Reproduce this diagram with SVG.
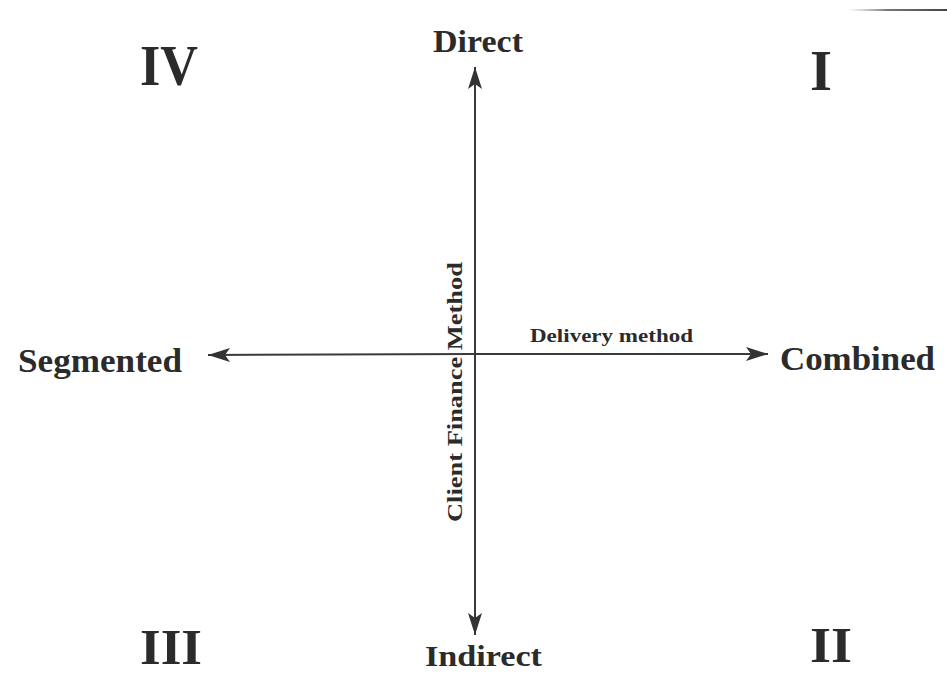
<svg xmlns="http://www.w3.org/2000/svg" width="947" height="674" viewBox="0 0 947 674">
<style>
.t{font-family:"Liberation Serif","Times New Roman",serif;font-weight:bold;fill:#2b2b2b}
.ax{stroke:#3a3a3a;stroke-width:2;fill:none}
</style>
<defs>
<marker id="ah" viewBox="0 0 22 16" refX="22" refY="8" markerWidth="22" markerHeight="16" markerUnits="userSpaceOnUse" orient="auto">
<path d="M0,1 L22,8 L0,15 L5,8 Z" fill="#333"/>
</marker>
<linearGradient id="g" x1="0" x2="1" y1="0" y2="0">
<stop offset="0" stop-color="#999" stop-opacity="0"/>
<stop offset="0.4" stop-color="#777"/>
<stop offset="1" stop-color="#444"/>
</linearGradient>
</defs>
<rect width="947" height="674" fill="#fff"/>
<rect x="848" y="9" width="99" height="2" fill="url(#g)"/>
<g id="connectors">
<line class="ax" x1="475" y1="354" x2="475" y2="67" marker-end="url(#ah)"/>
<line class="ax" x1="475" y1="354" x2="475" y2="635" marker-end="url(#ah)"/>
<line class="ax" x1="475" y1="354" x2="208" y2="355" marker-end="url(#ah)"/>
<line class="ax" x1="475" y1="354" x2="768" y2="354" marker-end="url(#ah)"/>
</g>
<g id="direct"><text class="t" x="433" y="52" font-size="31" textLength="90" lengthAdjust="spacingAndGlyphs">Direct</text></g>
<g id="indirect"><text class="t" x="425" y="666" font-size="30" textLength="117" lengthAdjust="spacingAndGlyphs">Indirect</text></g>
<g id="segmented"><text class="t" x="18" y="372" font-size="34" textLength="164" lengthAdjust="spacingAndGlyphs">Segmented</text></g>
<g id="combined"><text class="t" x="780" y="370" font-size="34" textLength="155" lengthAdjust="spacingAndGlyphs">Combined</text></g>
<g id="delivery"><text class="t" x="530" y="342" font-size="18" textLength="163" lengthAdjust="spacingAndGlyphs">Delivery method</text></g>
<g id="client"><text class="t" transform="translate(462,522) rotate(-90)" x="0" y="0" font-size="22" textLength="260" lengthAdjust="spacingAndGlyphs">Client Finance Method</text></g>
<g id="q4"><text class="t" x="140" y="85" font-size="56" textLength="58" lengthAdjust="spacingAndGlyphs">IV</text></g>
<g id="q1"><text class="t" x="810" y="90" font-size="56" textLength="22" lengthAdjust="spacingAndGlyphs">I</text></g>
<g id="q3"><text class="t" x="140" y="664" font-size="50" textLength="62" lengthAdjust="spacingAndGlyphs">III</text></g>
<g id="q2"><text class="t" x="810" y="662" font-size="50" textLength="42" lengthAdjust="spacingAndGlyphs">II</text></g>
</svg>
